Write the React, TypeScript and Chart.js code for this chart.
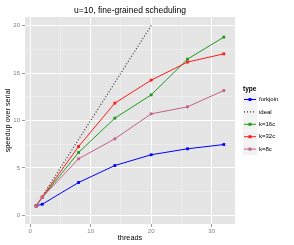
import React, { useEffect, useRef } from "react";
import { Chart, registerables } from "chart.js";
Chart.register(...registerables);

const threads = [1, 2, 8, 14, 20, 26, 32];
const idealThreads = [1, 2, 8, 14, 20];
const forkjoin = [1.02, 1.18, 3.47, 5.26, 6.39, 7.02, 7.47];
const ideal = [1, 2, 8, 14, 20];
const k16c = [1, 1.9, 6.63, 10.25, 12.7, 16.46, 18.78];
const k32c = [1, 1.94, 7.26, 11.83, 14.25, 16.15, 17.02];
const k8c = [1, 1.9, 5.97, 8.07, 10.7, 11.44, 13.16];
const seriesNames = ["forkjoin", "ideal", "k=16c", "k=32c", "k=8c"];
const xMajor = [0, 10, 20, 30];
const xMinor = [5, 15, 25];
const yMajor = [0, 5, 10, 15, 20];
const yMinor = [2.5, 7.5, 12.5, 17.5];
const titleText = "u=10, fine-grained scheduling";
const xTitle = "threads";
const yTitle = "speedup over serial";
const legendTitle = "type";

const FONT = "'Liberation Sans', Arial, sans-serif";
const colors = ["#0000FF", "#333333", "#1E9A1E", "#FF1A1A", "#C4608A"];

const pts = (xs: number[], ys: number[]) => xs.map((x, i) => ({ x, y: ys[i] }));

export default function App() {
  const ref = useRef<HTMLCanvasElement | null>(null);
  useEffect(() => {
    document.body.style.margin = "0";
    const canvas = ref.current!;
    const seriesData = [
      pts(threads, forkjoin),
      pts(idealThreads, ideal),
      pts(threads, k16c),
      pts(threads, k32c),
      pts(threads, k8c),
    ];
    const datasets = seriesNames.map((name, i) => ({
      label: name,
      data: seriesData[i],
      borderColor: colors[i],
      backgroundColor: colors[i],
      borderWidth: i === 1 ? 1.2 : 1,
      borderDash: i === 1 ? [1, 2] : [],
      pointRadius: i === 1 ? 0 : 2,
      pointStyle: "rect" as const,
      pointBorderWidth: 0,
      tension: 0,
      order: 5 - i,
    }));

    const panelBg = {
      id: "panelBg",
      beforeDraw(chart: any) {
        const { ctx, chartArea: a } = chart;
        ctx.save();
        ctx.fillStyle = "#E5E5E5";
        ctx.fillRect(a.left, a.top, a.right - a.left, a.bottom - a.top);
        ctx.restore();
      },
    };

    const decor = {
      id: "decor",
      afterDraw(chart: any) {
        const { ctx, chartArea: a } = chart;
        ctx.save();
        ctx.fillStyle = "#000";
        ctx.textAlign = "center";
        ctx.textBaseline = "middle";
        ctx.font = `8.5px ${FONT}`;
        ctx.fillText(titleText, (a.left + a.right) / 2, 11);
        ctx.font = `7.3px ${FONT}`;
        ctx.fillText(xTitle, (a.left + a.right) / 2, 238);
        ctx.save();
        ctx.translate(8, (a.top + a.bottom) / 2);
        ctx.rotate(-Math.PI / 2);
        ctx.fillText(yTitle, 0, 0);
        ctx.restore();

        // legend
        const lx = 243;
        ctx.textAlign = "left";
        ctx.font = `bold 6.5px ${FONT}`;
        ctx.fillText(legendTitle, lx, 89);
        ctx.font = `6px ${FONT}`;
        seriesNames.forEach((name, i) => {
          const cy = 99.5 + i * 12.4;
          ctx.fillStyle = "#F2F2F2";
          ctx.fillRect(lx, cy - 6, 14, 12);
          ctx.strokeStyle = colors[i];
          ctx.lineWidth = i === 1 ? 1.2 : 1;
          ctx.setLineDash(i === 1 ? [1, 2] : []);
          ctx.beginPath();
          ctx.moveTo(lx + 1, cy);
          ctx.lineTo(lx + 13, cy);
          ctx.stroke();
          ctx.setLineDash([]);
          if (i !== 1) {
            ctx.fillStyle = colors[i];
            ctx.fillRect(lx + 5.5, cy - 1.5, 3, 3);
          }
          ctx.fillStyle = "#000";
          ctx.fillText(name, lx + 16, cy);
        });
        ctx.restore();
      },
    };

    const isMajor = (list: number[], v: number) => list.includes(v);

    const chart = new Chart(canvas, {
      type: "line",
      data: { datasets },
      options: {
        responsive: false,
        animation: false,
        layout: { padding: { top: 17, right: 59, left: 0, bottom: 0 } },
        plugins: { legend: { display: false }, title: { display: false }, tooltip: { enabled: false } },
        scales: {
          x: {
            type: "linear",
            min: -0.85,
            max: 33.85,
            afterFit: (s: any) => { s.height = 21; },
            afterBuildTicks: (s: any) => {
              s.ticks = [...xMajor, ...xMinor].sort((p, q) => p - q).map((v) => ({ value: v }));
            },
            border: { display: false },
            grid: {
              color: (c: any) => (isMajor(xMajor, c.tick?.value) ? "#FFFFFF" : "#F2F2F2"),
              lineWidth: (c: any) => (isMajor(xMajor, c.tick?.value) ? 1 : 0.6),
              tickColor: (c: any) => (isMajor(xMajor, c.tick?.value) ? "#7F7F7F" : "rgba(0,0,0,0)"),
              tickLength: 3,
              tickWidth: 0.8,
            },
            ticks: {
              autoSkip: false,
              maxRotation: 0,
              padding: 1,
              color: "#7F7F7F",
              font: { family: FONT, size: 6 },
              callback: (v: any) => (xMajor.includes(Number(v)) ? String(v) : ""),
            },
          },
          y: {
            type: "linear",
            min: -0.9,
            max: 20.9,
            afterFit: (s: any) => { s.width = 25; },
            afterBuildTicks: (s: any) => {
              s.ticks = [...yMajor, ...yMinor].sort((p, q) => p - q).map((v) => ({ value: v }));
            },
            border: { display: false },
            grid: {
              color: (c: any) => (isMajor(yMajor, c.tick?.value) ? "#FFFFFF" : "#F2F2F2"),
              lineWidth: (c: any) => (isMajor(yMajor, c.tick?.value) ? 1 : 0.6),
              tickColor: (c: any) => (isMajor(yMajor, c.tick?.value) ? "#7F7F7F" : "rgba(0,0,0,0)"),
              tickLength: 3,
              tickWidth: 0.8,
            },
            ticks: {
              autoSkip: false,
              padding: 2,
              color: "#7F7F7F",
              font: { family: FONT, size: 6 },
              callback: (v: any) => (yMajor.includes(Number(v)) ? String(v) : ""),
            },
          },
        },
      },
      plugins: [panelBg, decor],
    } as any);
    return () => chart.destroy();
  }, []);
  return <canvas ref={ref} width={294} height={245} style={{ display: "block", width: 294, height: 245 }} />;
}
